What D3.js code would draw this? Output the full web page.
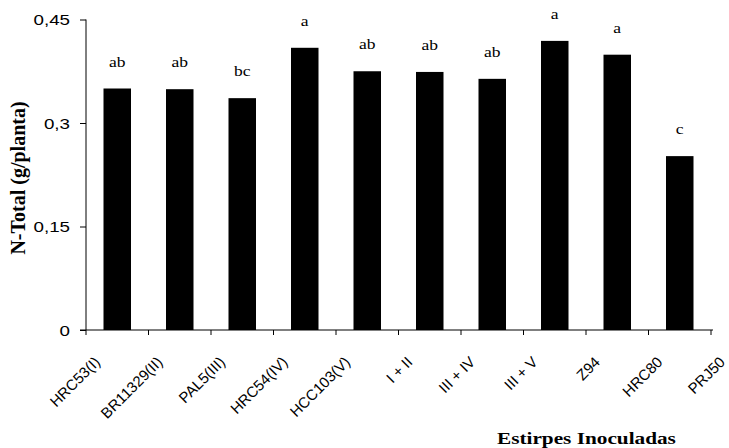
<!DOCTYPE html>
<html>
<head>
<meta charset="utf-8">
<script src="https://cdn.jsdelivr.net/npm/d3@7"></script>
<style>
  body { margin: 0; background: #fff; }
  svg { display: block; }
  .tick-label { font-family: "Liberation Sans", Arial, sans-serif; font-size: 15px; fill: #000; }
  .letter { font-family: "Liberation Serif", "Times New Roman", serif; font-size: 14px; fill: #000; }
  .title { font-family: "Liberation Serif", "Times New Roman", serif; font-weight: bold; fill: #000; }
</style>
</head>
<body>
<svg width="729" height="448"></svg>
<script>
// datos del gráfico
const categories = ["HRC53(I)", "BR11329(II)", "PAL5(III)", "HRC54(IV)", "HCC103(V)",
  "I + II", "III + IV", "III + V", "Z94", "HRC80"];
const nTotal = [0.350, 0.349, 0.336, 0.409, 0.375, 0.374, 0.364, 0.419, 0.399, 0.252];
const letters = ["ab", "ab", "bc", "a", "ab", "ab", "ab", "a", "a", "c"];
// etiquetas del eje x (hay una más que barras)
const axisLabels = ["HRC53(I)", "BR11329(II)", "PAL5(III)", "HRC54(IV)", "HCC103(V)",
  "I + II", "III + IV", "III + V", "Z94", "HRC80", "PRJ50"];
const yTicks = [0, 0.15, 0.3, 0.45];

const svg = d3.select("svg");
const width = +svg.attr("width");
const height = +svg.attr("height");

// la imagen original tiene el texto estirado horizontalmente
const stretch = 1.25;
const widen = sel => sel.each(function () {
  const w = this.getComputedTextLength();
  d3.select(this).attr("textLength", w * stretch).attr("lengthAdjust", "spacingAndGlyphs");
});

const margin = { top: 19.5, right: 18, bottom: 118, left: 86 };
const innerWidth = 625;
const innerHeight = height - margin.top - margin.bottom;

const x = d3.scaleBand()
  .domain(categories)
  .range([margin.left, margin.left + innerWidth]);

const xLab = d3.scalePoint()
  .domain(axisLabels)
  .range([margin.left, margin.left + innerWidth]);

const y = d3.scaleLinear()
  .domain([0, 0.45])
  .range([margin.top + innerHeight, margin.top]);

const fmt = d => String(d).replace(".", ",");

// barras
const barFrac = 0.44;
svg.append("g")
  .selectAll("rect")
  .data(categories)
  .join("rect")
  .attr("x", (d) => x(d) + x.bandwidth() * (1 - barFrac) / 2)
  .attr("y", (d, i) => y(nTotal[i]))
  .attr("width", x.bandwidth() * barFrac)
  .attr("height", (d, i) => y(0) - y(nTotal[i]))
  .attr("fill", "#000");

// letras de significancia
svg.append("g")
  .selectAll("text")
  .data(categories)
  .join("text")
  .attr("class", "letter")
  .attr("text-anchor", "middle")
  .attr("x", d => x(d) + x.bandwidth() / 2)
  .attr("y", (d, i) => y(nTotal[i]) - 22)
  .text((d, i) => letters[i])
  .call(widen);

// eje y
const yAxisG = svg.append("g")
  .attr("transform", `translate(${margin.left},0)`)
  .call(d3.axisLeft(y).tickValues(yTicks).tickSize(6).tickFormat(fmt));
yAxisG.select(".domain").attr("d", `M0,${y(0)}V${y(0.45)}`);
yAxisG.selectAll(".tick text")
  .attr("class", "tick-label")
  .attr("x", -16)
  .attr("dy", "0.36em")
  .attr("text-anchor", "end")
  .call(widen);

// eje x
const xAxisG = svg.append("g")
  .attr("transform", `translate(0,${y(0)})`);
xAxisG.append("line")
  .attr("x1", margin.left - 6)
  .attr("x2", margin.left + innerWidth + 2)
  .attr("stroke", "#000");
xAxisG.selectAll(".xtick")
  .data(axisLabels)
  .join("line")
  .attr("class", "xtick")
  .attr("x1", d => xLab(d))
  .attr("x2", d => xLab(d))
  .attr("y1", 0)
  .attr("y2", 5)
  .attr("stroke", "#000");
xAxisG.selectAll(".xlab")
  .data(axisLabels)
  .join("text")
  .attr("class", "tick-label xlab")
  .attr("font-size", 16.5)
  .attr("text-anchor", "end")
  .attr("transform", d => `translate(${xLab(d) + 15},33) rotate(-45)`)
  .text(d => d);

// títulos
svg.append("text")
  .attr("class", "title")
  .attr("font-size", 20)
  .attr("text-anchor", "middle")
  .attr("transform", "translate(25,178) rotate(-90)")
  .text("N-Total (g/planta)");

svg.append("text")
  .attr("class", "title")
  .attr("font-size", 17)
  .attr("x", 497)
  .attr("y", 444)
  .text("Estirpes Inoculadas")
  .call(widen);
</script>
</body>
</html>
